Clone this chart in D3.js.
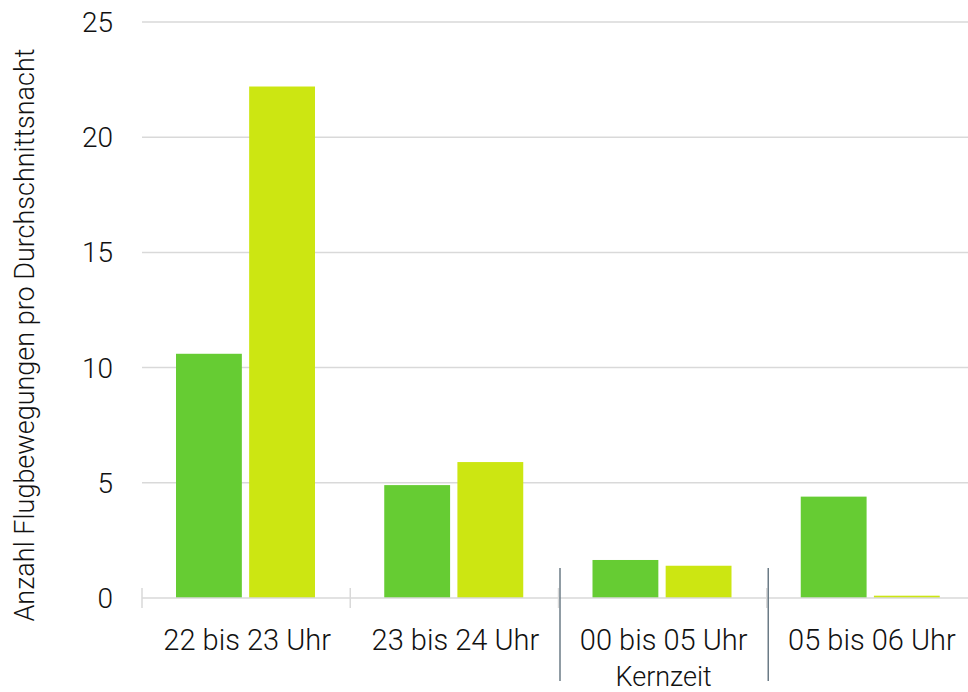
<!DOCTYPE html>
<html>
<head>
<meta charset="utf-8">
<script src="https://cdn.jsdelivr.net/npm/d3@7"></script>
<style>
  body { margin: 0; background: #fff; }
  text { font-family: Roboto, sans-serif; font-weight: 300; fill: #111; }
</style>
</head>
<body>
<div id="chart"></div>
<script>
const categories = ["22 bis 23 Uhr", "23 bis 24 Uhr", "00 bis 05 Uhr", "05 bis 06 Uhr"];
const subLabels = ["", "", "Kernzeit", ""];
const seriesA = [10.6, 4.9, 1.65, 4.4];
const seriesB = [22.2, 5.9, 1.4, 0.1];
const yTicks = [0, 5, 10, 15, 20, 25];

const width = 968, height = 692;
const margin = { top: 22, bottom: 94, left: 142 };

const svg = d3.select("#chart").append("svg")
  .attr("width", width)
  .attr("height", height);

// band scale runs a little past the right edge, like the original
const x = d3.scaleBand()
  .domain(categories)
  .range([margin.left, 975]);

const y = d3.scaleLinear()
  .domain([0, 25])
  .range([height - margin.bottom, margin.top]);

// gridlines
svg.append("g")
  .selectAll("line")
  .data(yTicks.filter(d => d > 0))
  .join("line")
  .attr("x1", margin.left)
  .attr("x2", width)
  .attr("y1", d => y(d))
  .attr("y2", d => y(d))
  .attr("stroke", "#d9d9d9")
  .attr("stroke-width", 1.5);

// y tick labels
svg.append("g")
  .selectAll("text")
  .data(yTicks)
  .join("text")
  .attr("x", 113)
  .attr("y", d => y(d))
  .attr("dy", "0.36em")
  .attr("text-anchor", "end")
  .style("font-size", "28px")
  .text(d => d);

// bars
const inner = d3.scaleBand()
  .domain(["a", "b"])
  .range([34, 173])
  .paddingInner(0.1);

const groups = svg.append("g")
  .selectAll("g")
  .data(categories)
  .join("g")
  .attr("transform", d => `translate(${x(d)},0)`);

groups.append("rect")
  .attr("x", inner("a"))
  .attr("width", inner.bandwidth())
  .attr("y", (d, i) => y(seriesA[i]))
  .attr("height", (d, i) => y(0) - y(seriesA[i]))
  .attr("fill", "#66cc33");

groups.append("rect")
  .attr("x", inner("b"))
  .attr("width", inner.bandwidth())
  .attr("y", (d, i) => y(seriesB[i]))
  .attr("height", (d, i) => y(0) - y(seriesB[i]))
  .attr("fill", "#cce612");

// x axis baseline and ticks
svg.append("line")
  .attr("x1", margin.left)
  .attr("x2", width)
  .attr("y1", y(0))
  .attr("y2", y(0))
  .attr("stroke", "#d9d9d9")
  .attr("stroke-width", 1.5);

svg.append("g")
  .selectAll("line")
  .data(categories)
  .join("line")
  .attr("x1", d => x(d))
  .attr("x2", d => x(d))
  .attr("y1", y(0) - 10)
  .attr("y2", y(0) + 10)
  .attr("stroke", "#d9d9d9")
  .attr("stroke-width", 1.5);

// separators around Kernzeit
svg.append("g")
  .selectAll("line")
  .data([categories[2], categories[3]])
  .join("line")
  .attr("x1", d => x(d) + 1.5)
  .attr("x2", d => x(d) + 1.5)
  .attr("y1", 568)
  .attr("y2", 681)
  .attr("stroke", "#6b7b86")
  .attr("stroke-width", 1.5);

// x labels
svg.append("g")
  .selectAll("text")
  .data(categories)
  .join("text")
  .attr("x", d => x(d) + x.bandwidth() / 2 + 1)
  .attr("y", 650)
  .attr("text-anchor", "middle")
  .style("font-size", "29px")
  .text(d => d);

svg.append("g")
  .selectAll("text")
  .data(categories)
  .join("text")
  .attr("x", d => x(d) + x.bandwidth() / 2 + 1)
  .attr("y", 686)
  .attr("text-anchor", "middle")
  .style("font-size", "27px")
  .text((d, i) => subLabels[i]);

// y axis title
svg.append("text")
  .attr("transform", "translate(34,335) rotate(-90)")
  .attr("text-anchor", "middle")
  .style("font-size", "27px")
  .text("Anzahl Flugbewegungen pro Durchschnittsnacht");
</script>
</body>
</html>
